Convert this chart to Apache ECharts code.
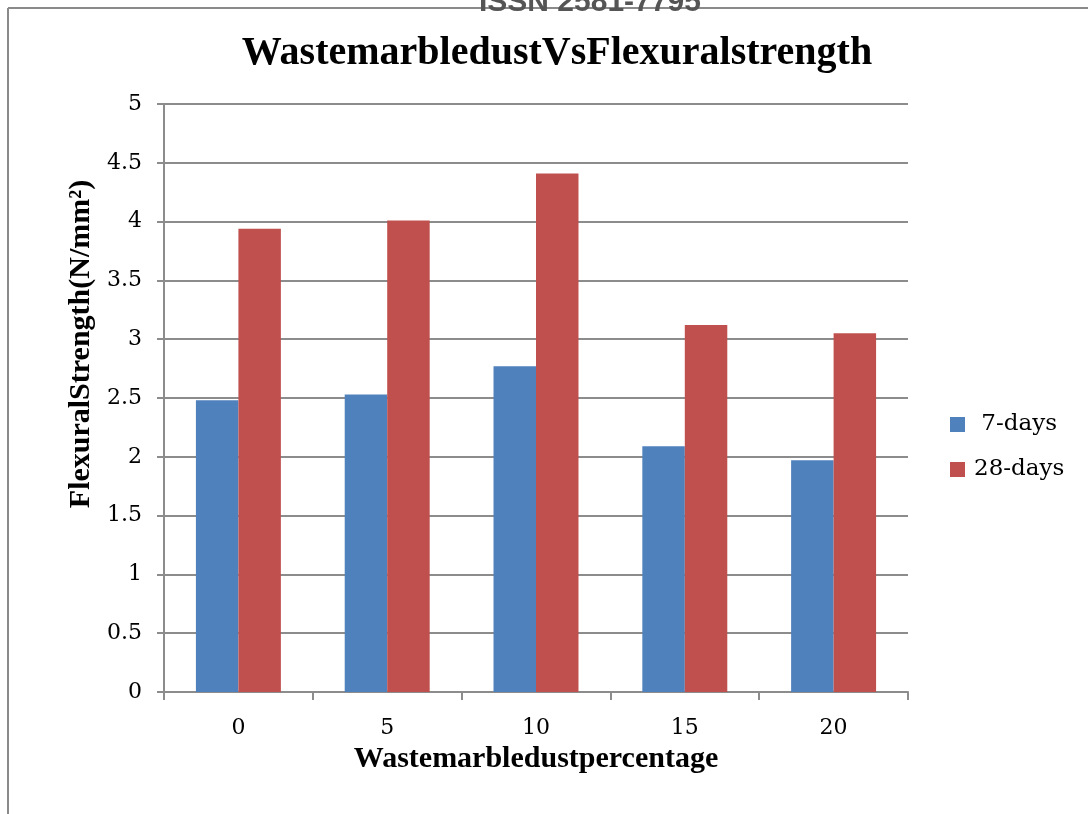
<!DOCTYPE html>
<html>
<head>
<meta charset="utf-8">
<script src="https://cdn.jsdelivr.net/npm/echarts@6/dist/echarts.min.js"></script>
<style>
html,body{margin:0;padding:0;background:#fff;}
#chart{width:1088px;height:814px;}
</style>
</head>
<body>
<div id="chart"></div>
<script>
const categories = ['0', '5', '10', '15', '20'];
const days7 = [2.48, 2.53, 2.77, 2.09, 1.97];
const days28 = [3.94, 4.01, 4.41, 3.12, 3.05];
const seriesNames = ['7-days', '28-days'];
const titleText = 'WastemarbledustVsFlexuralstrength';
const xTitle = 'Wastemarbledustpercentage';
const yTitle = 'FlexuralStrength(N/mm²)';
const headerText = 'ISSN 2581-7795';

const chart = echarts.init(document.getElementById('chart'), null, {renderer: 'canvas'});
const serif = '"Liberation Serif", "Times New Roman", serif';
const tickFont = '"DejaVu Serif", serif';
chart.setOption({
  animation: false,
  backgroundColor: '#fff',
  title: {
    text: titleText,
    left: 552, top: 29, textAlign: 'center',
    textStyle: {fontFamily: serif, fontWeight: 'bold', fontSize: 40, color: '#000'}
  },
  graphic: [
    {type: 'line', shape: {x1: 8, y1: 8, x2: 1088, y2: 8}, style: {stroke: '#8a8a8a', lineWidth: 2}, z: 0},
    {type: 'line', shape: {x1: 8, y1: 8, x2: 8, y2: 814}, style: {stroke: '#8a8a8a', lineWidth: 2}, z: 0},
    {type: 'text', left: 479, top: -12, style: {text: headerText, font: 'bold 30px "Liberation Sans", Arial, sans-serif', fill: '#555'}, z: 10}
  ],
  legend: {
    orient: 'vertical',
    left: 945, top: 408,
    itemWidth: 15, itemHeight: 15, itemGap: 22,
    icon: 'rect',
    textStyle: {fontFamily: tickFont, fontSize: 23, color: '#000', padding: [0, 0, 0, 4]},
    data: seriesNames,
    formatter: function(n){ return n === '7-days' ? ' 7-days' : n; }
  },
  grid: {left: 164, right: 180, top: 104, bottom: 122},
  xAxis: {
    type: 'category',
    data: categories,
    name: xTitle,
    nameLocation: 'middle',
    nameGap: 48,
    nameTextStyle: {fontFamily: serif, fontWeight: 'bold', fontSize: 30, color: '#000'},
    axisLine: {lineStyle: {color: '#8c8c8c', width: 2}},
    axisTick: {show: true, length: 8, lineStyle: {color: '#8c8c8c', width: 2}},
    axisLabel: {fontFamily: tickFont, fontSize: 22, color: '#000', margin: 25}
  },
  yAxis: {
    type: 'value',
    min: 0, max: 5, interval: 0.5,
    name: yTitle,
    nameLocation: 'middle',
    nameGap: 68,
    nameTextStyle: {fontFamily: serif, fontWeight: 'bold', fontSize: 30, color: '#000', padding: [0, 0, 0, 108]},
    axisLine: {show: true, lineStyle: {color: '#8c8c8c', width: 2}},
    axisTick: {show: true, length: 7, lineStyle: {color: '#8c8c8c', width: 2}},
    axisLabel: {fontFamily: tickFont, fontSize: 22, color: '#000', margin: 22},
    splitLine: {lineStyle: {color: '#8c8c8c', width: 2}}
  },
  series: [
    {name: seriesNames[0], type: 'bar', data: days7, itemStyle: {color: '#4f81bd'}, barGap: '0%', barCategoryGap: '42.9%'},
    {name: seriesNames[1], type: 'bar', data: days28, itemStyle: {color: '#c0504d'}, barGap: '0%', barCategoryGap: '42.9%'}
  ]
});
</script>
</body>
</html>
